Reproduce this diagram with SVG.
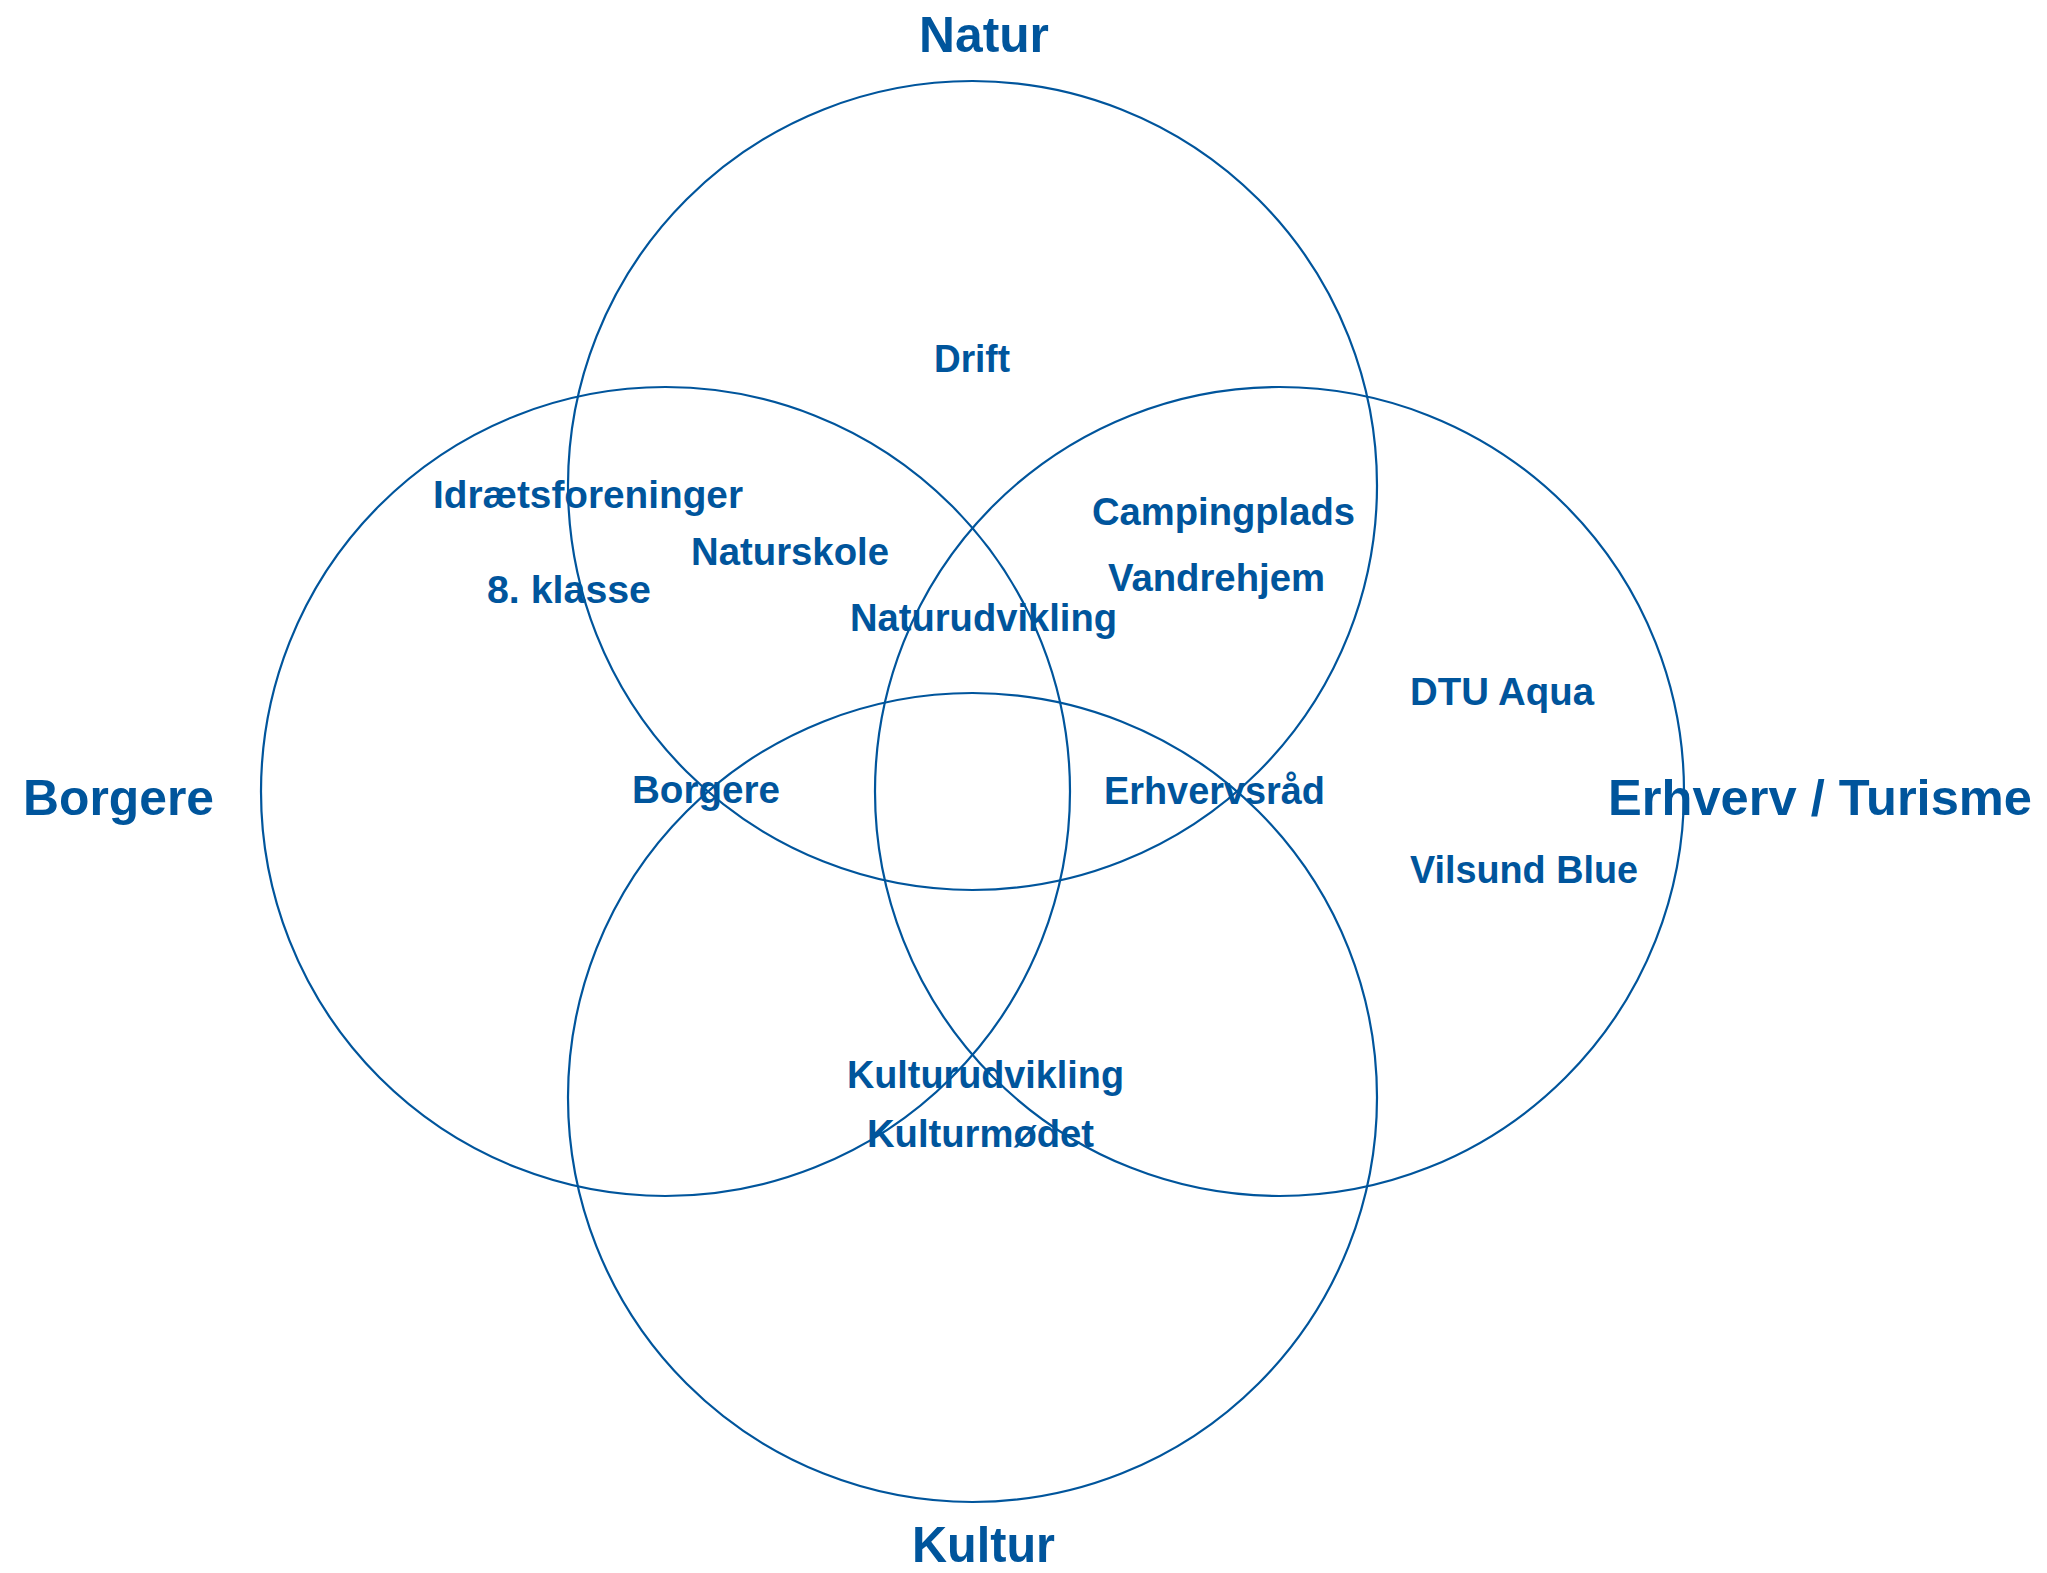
<svg xmlns="http://www.w3.org/2000/svg" width="2047" height="1573" viewBox="0 0 2047 1573">
<style>
.c{fill:none;stroke:#00559c;stroke-width:2.2}
.t{font-family:"Liberation Sans",Arial,sans-serif;font-weight:bold;fill:#00559c}
.h{font-size:50px}
.l{font-size:38px}
</style>
<rect width="2047" height="1573" fill="#ffffff"/>
<g id="connectors"></g>
<g id="natur">
<circle class="c" cx="972.5" cy="485.5" r="404.5"/>
<text class="t h" x="919" y="52" textLength="130" lengthAdjust="spacingAndGlyphs">Natur</text>
</g>
<g id="borgere">
<circle class="c" cx="665.5" cy="791.5" r="404.5"/>
<text class="t h" x="23" y="815" textLength="191" lengthAdjust="spacingAndGlyphs">Borgere</text>
</g>
<g id="erhverv">
<circle class="c" cx="1279.5" cy="791.5" r="404.5"/>
<text class="t h" x="1608" y="815" textLength="424" lengthAdjust="spacingAndGlyphs">Erhverv / Turisme</text>
</g>
<g id="kultur">
<circle class="c" cx="972.5" cy="1097.5" r="404.5"/>
<text class="t h" x="912" y="1562" textLength="143" lengthAdjust="spacingAndGlyphs">Kultur</text>
</g>
<g id="labels">
<text class="t l" x="934" y="372" textLength="76" lengthAdjust="spacingAndGlyphs">Drift</text>
<text class="t l" x="433" y="508" textLength="310" lengthAdjust="spacingAndGlyphs">Idrætsforeninger</text>
<text class="t l" x="691" y="565" textLength="198" lengthAdjust="spacingAndGlyphs">Naturskole</text>
<text class="t l" x="487" y="603" textLength="164" lengthAdjust="spacingAndGlyphs">8. klasse</text>
<text class="t l" x="1092" y="525" textLength="263" lengthAdjust="spacingAndGlyphs">Campingplads</text>
<text class="t l" x="1108" y="591" textLength="217" lengthAdjust="spacingAndGlyphs">Vandrehjem</text>
<text class="t l" x="850" y="631" textLength="267" lengthAdjust="spacingAndGlyphs">Naturudvikling</text>
<text class="t l" x="1410" y="705" textLength="184" lengthAdjust="spacingAndGlyphs">DTU Aqua</text>
<text class="t l" x="1410" y="883" textLength="228" lengthAdjust="spacingAndGlyphs">Vilsund Blue</text>
<text class="t l" x="632" y="803" textLength="148" lengthAdjust="spacingAndGlyphs">Borgere</text>
<text class="t l" x="1104" y="804" textLength="221" lengthAdjust="spacingAndGlyphs">Erhvervsråd</text>
<text class="t l" x="847" y="1088" textLength="277" lengthAdjust="spacingAndGlyphs">Kulturudvikling</text>
<text class="t l" x="867" y="1147" textLength="227" lengthAdjust="spacingAndGlyphs">Kulturmødet</text>
</g>
</svg>
